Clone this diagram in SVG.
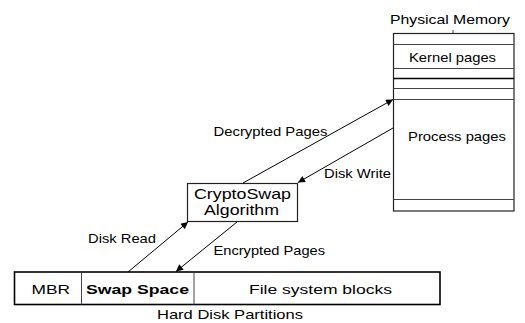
<svg xmlns="http://www.w3.org/2000/svg" width="525" height="323" viewBox="0 0 525 323">
<defs>
<marker id="ah" viewBox="0 0 10 10" refX="10" refY="5" markerWidth="11" markerHeight="7" markerUnits="userSpaceOnUse" orient="auto">
<path d="M0,0 L10,5 L0,10 z" fill="#000"/>
</marker>
<style>
text{font-family:"Liberation Sans",Arial,sans-serif;font-size:13px;fill:#000}
.b{font-weight:bold}
.big{font-size:15px}
.cap{font-size:13.5px}
.box{fill:#fff;stroke:#222;stroke-width:1.2}
.div{stroke:#444;stroke-width:1}
.conn{stroke:#000;stroke-width:1;fill:none;marker-end:url(#ah)}
</style>
</defs>
<g id="physical-memory">
<text x="390" y="24" class="cap" textLength="120" lengthAdjust="spacingAndGlyphs">Physical Memory</text>
<line x1="453" y1="30" x2="453" y2="33" class="div"/>
<rect x="393.5" y="33.5" width="120.5" height="177.5" class="box"/>
<line x1="393.5" y1="44.5" x2="514" y2="44.5" class="div"/>
<line x1="393.5" y1="68.5" x2="514" y2="68.5" class="div"/>
<line x1="393.5" y1="78.5" x2="514" y2="78.5" stroke="#000" stroke-width="1.6"/>
<line x1="393.5" y1="88.5" x2="514" y2="88.5" class="div"/>
<line x1="393.5" y1="99.5" x2="514" y2="99.5" class="div"/>
<line x1="393.5" y1="199.5" x2="514" y2="199.5" class="div"/>
<text x="409" y="62" textLength="87" lengthAdjust="spacingAndGlyphs">Kernel pages</text>
<text x="408" y="140.5" textLength="98" lengthAdjust="spacingAndGlyphs">Process pages</text>
</g>
<g id="cryptoswap">
<rect x="187.5" y="183.5" width="110" height="38" class="box"/>
<text x="194" y="198.5" class="big" textLength="97" lengthAdjust="spacingAndGlyphs">CryptoSwap</text>
<text x="204" y="215" class="big" textLength="75" lengthAdjust="spacingAndGlyphs">Algorithm</text>
</g>
<g id="hard-disk">
<rect x="14.5" y="272" width="425.5" height="32.5" fill="#fff" stroke="#000" stroke-width="1.6"/>
<line x1="81.5" y1="272" x2="81.5" y2="304.5" class="div"/>
<line x1="194" y1="272" x2="194" y2="304.5" class="div"/>
<text x="31.5" y="293.5" textLength="38.5" lengthAdjust="spacingAndGlyphs">MBR</text>
<text x="86" y="293.5" class="b" textLength="103" lengthAdjust="spacingAndGlyphs">Swap Space</text>
<text x="249" y="293.5" textLength="143" lengthAdjust="spacingAndGlyphs">File system blocks</text>
<text x="157" y="319" class="cap" textLength="146" lengthAdjust="spacingAndGlyphs">Hard Disk Partitions</text>
</g>
<g id="connectors">
<line x1="243" y1="183" x2="393" y2="99.5" class="conn"/>
<line x1="393" y1="128" x2="298" y2="182.5" class="conn"/>
<line x1="128" y1="272" x2="188" y2="222" class="conn"/>
<line x1="237" y1="222" x2="176" y2="271.5" class="conn"/>
<text x="213.5" y="135.5" textLength="114" lengthAdjust="spacingAndGlyphs">Decrypted Pages</text>
<text x="324" y="178" textLength="67" lengthAdjust="spacingAndGlyphs">Disk Write</text>
<text x="213.5" y="254.5" textLength="111.5" lengthAdjust="spacingAndGlyphs">Encrypted Pages</text>
<text x="88" y="243" textLength="68" lengthAdjust="spacingAndGlyphs">Disk Read</text>
</g>
</svg>
